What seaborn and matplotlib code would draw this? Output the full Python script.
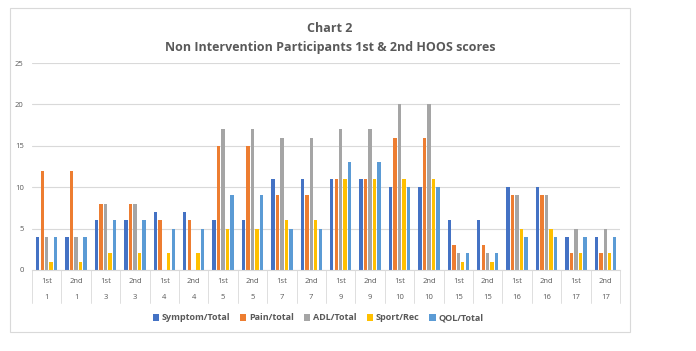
import pandas as pd
import seaborn as sns
import matplotlib.pyplot as plt
from matplotlib.patches import Rectangle
from matplotlib.transforms import blended_transform_factory

# 데이터
sessions = ['1st', '2nd'] * 10
participants = ['1', '1', '3', '3', '4', '4', '5', '5', '7', '7',
                '9', '9', '10', '10', '15', '15', '16', '16', '17', '17']
measures = ['Symptom/Total', 'Pain/total', 'ADL/Total', 'Sport/Rec', 'QOL/Total']

symptom = [4, 4, 6, 6, 7, 7, 6, 6, 11, 11, 11, 11, 10, 10, 6, 6, 10, 10, 4, 4]
pain = [12, 12, 8, 8, 6, 6, 15, 15, 9, 9, 11, 11, 16, 16, 3, 3, 9, 9, 2, 2]
adl = [4, 4, 8, 8, 0, 0, 17, 17, 16, 16, 17, 17, 20, 20, 2, 2, 9, 9, 5, 5]
sport = [1, 1, 2, 2, 2, 2, 5, 5, 6, 6, 11, 11, 11, 11, 1, 1, 5, 5, 2, 2]
qol = [4, 4, 6, 6, 5, 5, 9, 9, 5, 5, 13, 13, 10, 10, 2, 2, 4, 4, 4, 4]

colors = ['#4472C4', '#ED7D31', '#A5A5A5', '#FFC000', '#5B9BD5']

keys = [f'{s}-{p}' for s, p in zip(sessions, participants)]
rows = []
for name, vals in zip(measures, [symptom, pain, adl, sport, qol]):
    for k, v in zip(keys, vals):
        rows.append({'key': k, 'measure': name, 'score': v})
df = pd.DataFrame(rows)

sns.set_style('white')
plt.rcParams['font.family'] = ['Open Sans', 'DejaVu Sans']

fig = plt.figure(figsize=(6.96, 3.51), dpi=100)
ax = fig.add_axes([32 / 696, 1 - 270 / 351, 588 / 696, 207 / 351])

sns.barplot(data=df, x='key', y='score', hue='measure', order=keys,
            hue_order=measures, palette=colors, width=0.76, gap=0.25, ax=ax,
            saturation=1, linewidth=0, legend=True)

ax.set_ylim(0, 25)
ax.set_xlim(-0.5, len(keys) - 0.5)
ax.set_yticks(range(0, 26, 5))
ax.yaxis.grid(True, color='#D9D9D9', linewidth=0.8)
ax.set_axisbelow(True)
for side in ['top', 'right', 'left']:
    ax.spines[side].set_visible(False)
ax.spines['bottom'].set_color('#D9D9D9')
ax.tick_params(axis='y', length=0, labelsize=5.5, labelcolor='#595959', pad=6)
ax.set_xticks([])
ax.set_xlabel('')
ax.set_ylabel('')

# 카테고리 두 줄 라벨
trans = blended_transform_factory(ax.transData, ax.transAxes)
for i, (s, p) in enumerate(zip(sessions, participants)):
    ax.text(i, -0.055, s, transform=trans, ha='center', va='center',
            fontsize=5.5, color='#595959')
    ax.text(i, -0.135, p, transform=trans, ha='center', va='center',
            fontsize=5.5, color='#595959')
for i in range(len(keys) + 1):
    ax.plot([i - 0.5, i - 0.5], [0, -0.16], transform=trans, color='#D9D9D9',
            linewidth=0.6, clip_on=False)

# 제목
fig.text(330 / 696, 1 - 29 / 351, 'Chart 2', ha='center', va='center',
         fontsize=9, fontweight='bold', color='#595959')
fig.text(330 / 696, 1 - 47 / 351, 'Non Intervention Participants 1st & 2nd HOOS scores',
         ha='center', va='center', fontsize=9, fontweight='bold', color='#595959')

# 범례
handles, labels = ax.get_legend_handles_labels()
ax.get_legend().remove()
leg = fig.legend(handles, labels, loc='center', bbox_to_anchor=(318 / 696, 1 - 318 / 351),
                 ncol=5, frameon=False, fontsize=6.5, handlelength=0.7, handleheight=0.7,
                 handletextpad=0.3, columnspacing=1.1)
for t in leg.get_texts():
    t.set_color('#595959')
    t.set_fontweight('bold')

# 차트 테두리
fig.patches.append(Rectangle((10 / 696, 1 - 332 / 351), 620 / 696, 324 / 351,
                             transform=fig.transFigure, fill=False,
                             edgecolor='#D9D9D9', linewidth=0.8))

fig.savefig('out.png', dpi=100)
